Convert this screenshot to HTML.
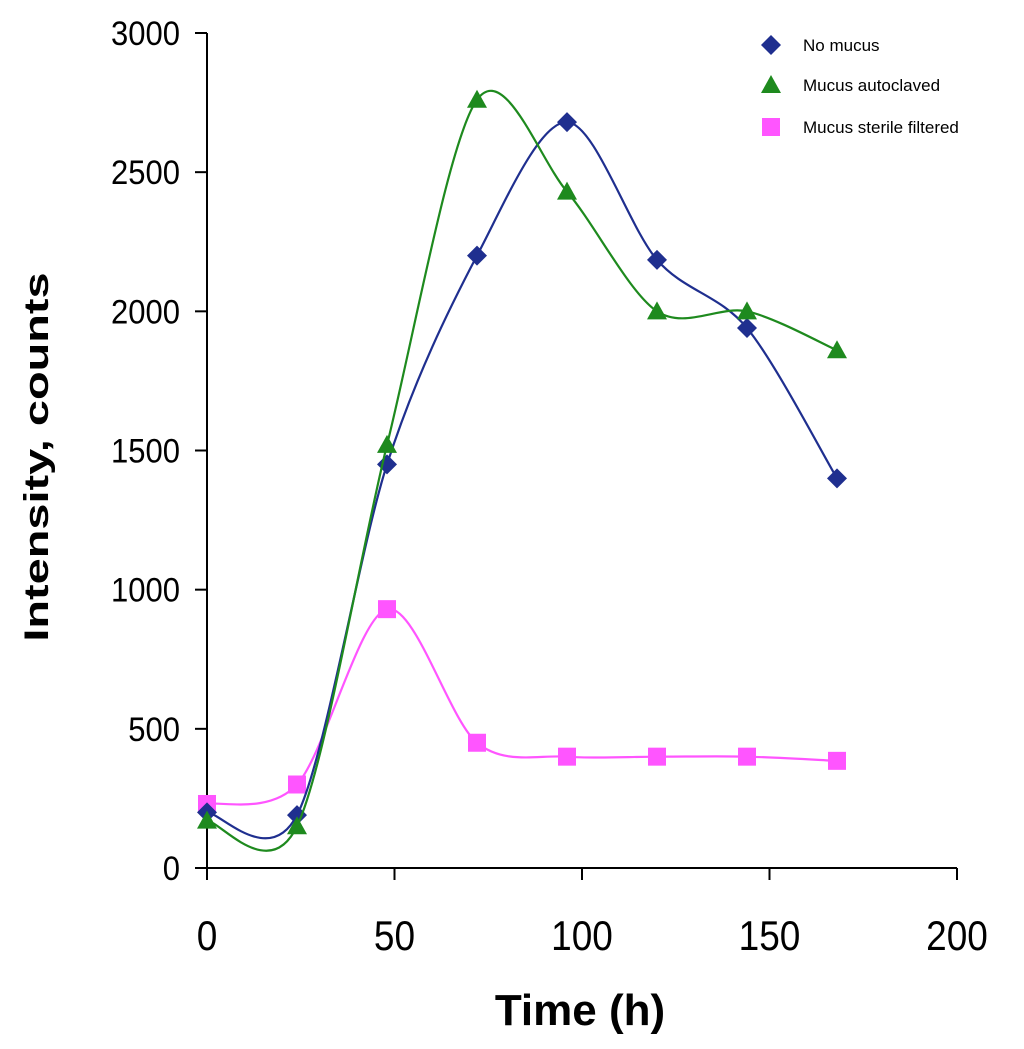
<!DOCTYPE html>
<html><head><meta charset="utf-8"><style>
html,body{margin:0;padding:0;background:#fff;}
svg{display:block;font-family:"Liberation Sans",Arial,sans-serif;}
</style></head><body>
<svg id="chart" width="1024" height="1049" viewBox="0 0 1024 1049" xmlns="http://www.w3.org/2000/svg">
<g id="axes"></g>
<g id="series"></g>
<g id="legend"></g>
<text x="580" y="1025" font-size="44" font-weight="bold" text-anchor="middle">Time (h)</text>
<text transform="translate(48,457) rotate(-90) scale(1.38,1)" font-size="34" font-weight="bold" text-anchor="middle">Intensity, counts</text>
</svg>
<script>
const times = [0, 24, 48, 72, 96, 120, 144, 168];
const noMucus = [200, 190, 1450, 2200, 2680, 2185, 1940, 1400];
const autoclaved = [170, 150, 1520, 2760, 2430, 2000, 2000, 1860];
const sterile = [230, 300, 930, 450, 400, 400, 400, 385];
const xTicks = [0, 50, 100, 150, 200];
const yTicks = [0, 500, 1000, 1500, 2000, 2500, 3000];
const seriesNames = ["No mucus", "Mucus autoclaved", "Mucus sterile filtered"];

const NS = "http://www.w3.org/2000/svg";
const X0 = 207, X1 = 957, Y0 = 868, Y1 = 33;
const xs = v => X0 + (v - 0) / 200 * (X1 - X0);
const ys = v => Y0 - v / 3000 * (Y0 - Y1);
function mk(tag, attrs, parent) {
  const e = document.createElementNS(NS, tag);
  for (const k in attrs) e.setAttribute(k, attrs[k]);
  parent.appendChild(e);
  return e;
}
const axes = document.getElementById('axes');
let yl = mk('line', {x1: X0, y1: Y1, x2: X0, y2: Y0, stroke: '#000', 'stroke-width': 2}, axes);


let xl = mk('line', {x1: X0, y1: Y0, x2: X1, y2: Y0, stroke: '#000', 'stroke-width': 2}, axes);


yTicks.forEach(t => {
  const y = ys(t);
  const tk = mk('line', {x1: X0 - 12, y1: y, x2: X0, y2: y, stroke: '#000', 'stroke-width': 2}, axes);
  
  
  const tx = mk('text', {x: 180, y: 0, 'font-size': 31, 'text-anchor': 'end', transform: `translate(0,${y + 12}) scale(1,1.12)`}, axes);
  tx.textContent = t;
  
  
});
xTicks.forEach(t => {
  const x = xs(t);
  const tk = mk('line', {x1: x, y1: Y0, x2: x, y2: Y0 + 12, stroke: '#000', 'stroke-width': 2}, axes);
  
  
  const tx = mk('text', {x: 0, y: 0, 'font-size': 37, 'text-anchor': 'middle', transform: `translate(${x},950) scale(1,1.12)`}, axes);
  tx.textContent = t;
  
  
});
function smoothPath(pts) {
  let d = `M${pts[0][0]},${pts[0][1]}`;
  const k = 6.5;
  for (let i = 0; i < pts.length - 1; i++) {
    const p0 = pts[Math.max(0, i - 1)], p1 = pts[i], p2 = pts[i + 1], p3 = pts[Math.min(pts.length - 1, i + 2)];
    const c1x = p1[0] + (p2[0] - p0[0]) / k, c1y = p1[1] + (p2[1] - p0[1]) / k;
    const c2x = p2[0] - (p3[0] - p1[0]) / k, c2y = p2[1] - (p3[1] - p1[1]) / k;
    d += ` C${c1x},${c1y} ${c2x},${c2y} ${p2[0]},${p2[1]}`;
  }
  return d;
}
function marker(g, type, x, y, color) {
  let m;
  if (type === 'diamond') m = mk('polygon', {points: `${x},${y-10} ${x+10},${y} ${x},${y+10} ${x-10},${y}`, fill: color}, g);
  else if (type === 'triangle') m = mk('polygon', {points: `${x},${y-10} ${x+10},${y+8} ${x-10},${y+8}`, fill: color}, g);
  else m = mk('rect', {x: x - 9, y: y - 9, width: 18, height: 18, fill: color}, g);
  return m;
}
const sg = document.getElementById('series');
const defs = [
  {vals: sterile, color: '#ff55ff', type: 'square', name: 'sterile'},
  {vals: noMucus, color: '#1f2f8f', type: 'diamond', name: 'no-mucus'},
  {vals: autoclaved, color: '#1e8a1e', type: 'triangle', name: 'autoclaved'}
];
defs.forEach(s => {
  const g = mk('g', {}, sg);
  
  
  const pts = times.map((t, i) => [xs(t), ys(s.vals[i])]);
  const p = mk('path', {d: smoothPath(pts), fill: 'none', stroke: s.color, 'stroke-width': 2.2}, g);
  
  
  pts.forEach(pt => {
    const m = marker(g, s.type, pt[0], pt[1], s.color);
    
    
  });
});
const lg = document.getElementById('legend');
const lcols = ['#1f2f8f', '#1e8a1e', '#ff55ff'], ltypes = ['diamond', 'triangle', 'square'], ly = [45, 85, 127];
seriesNames.forEach((n, i) => {
  const g = mk('g', {}, lg);
  
  
  const m = marker(g, ltypes[i], 771, ly[i], lcols[i]);
  
  
  const t = mk('text', {x: 803, y: ly[i] + 6, 'font-size': 17}, g);
  t.textContent = n;
  
  
});
</script>
</body></html>
